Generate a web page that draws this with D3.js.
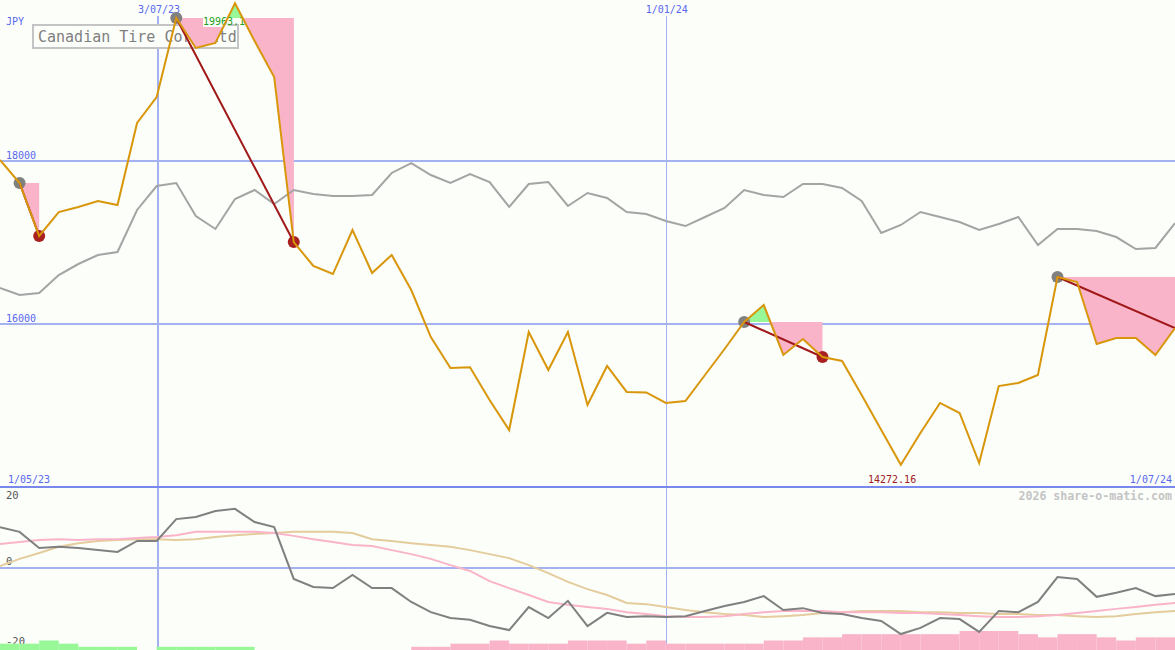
<!DOCTYPE html>
<html><head><meta charset="utf-8">
<script src="https://cdn.jsdelivr.net/npm/d3@7"></script>
<style>html,body{margin:0;padding:0;background:#fcfefa;}svg{display:block;}</style>
</head><body>
<script>
// ---- data ----
const title = "Canadian Tire Corp Ltd";
const currency = "JPY";
const price = [18012,17730,17080,17374,17436,17509,17460,18466,18785,19755,
  19387,19448,19935,19472,19031,17006,16712,16613,17153,16626,
  16847,16417,15840,15460,15470,15067,14699,15902,15436,15902,
  15006,15485,15166,15160,15031,15055,15374,15693,16025,16233,
  15620,15816,15595,15546,15129,14699,14272.16,14663,15031,14908,
  14294,15239,15276,15374,16577,16515,15755,15828,15828,15620,15951];
const avgLine = [16442,16356,16380,16601,16736,16847,16883,17399,17693,17730,
  17325,17166,17534,17644,17472,17644,17595,17571,17571,17583,
  17853,17975,17828,17730,17840,17742,17436,17718,17742,17448,
  17607,17546,17374,17350,17264,17202,17313,17423,17644,17583,
  17558,17718,17718,17669,17509,17117,17215,17374,17313,17252,
  17153,17227,17313,16969,17166,17166,17141,17067,16920,16933,17239];
const momentum = [11.2,9.9,5.5,5.8,5.5,4.9,4.4,7.4,7.4,13.4,
  14.0,15.6,16.2,12.6,11.2,-3.0,-5.2,-5.5,-1.9,-5.5,
  -5.5,-9.3,-12.1,-13.7,-14.2,-15.9,-17.0,-10.7,-13.7,-9.0,
  -15.9,-12.3,-13.4,-13.2,-13.4,-13.2,-11.8,-10.4,-9.3,-7.7,
  -11.5,-11.0,-12.3,-12.6,-13.7,-14.5,-18.1,-16.4,-13.7,-14.0,
  -17.5,-11.8,-12.1,-9.3,-2.5,-3.0,-7.9,-6.8,-5.5,-7.7,-7.1];
const fastAvg = [6.6,7.1,7.7,7.9,7.7,7.9,7.9,8.2,8.5,9.0,
  9.9,9.9,9.9,9.9,9.6,8.8,7.9,7.1,6.3,6.0,
  4.9,3.8,2.5,0.8,-0.8,-3.6,-5.5,-7.4,-9.3,-10.1,
  -10.7,-11.2,-12.1,-12.6,-13.2,-13.4,-13.4,-13.2,-12.6,-12.1,
  -11.8,-11.8,-11.8,-12.1,-12.1,-12.1,-12.3,-12.3,-12.6,-12.9,
  -13.2,-13.4,-13.4,-13.2,-12.9,-12.3,-11.8,-11.2,-10.7,-10.1,-9.6];
const slowAvg = [0.5,2.5,4.1,5.8,6.8,7.4,7.7,7.9,7.9,7.7,
  7.9,8.5,9.0,9.3,9.6,9.9,9.9,9.9,9.6,7.9,
  7.4,6.8,6.3,5.8,4.9,3.8,2.7,0.8,-1.4,-3.8,
  -5.8,-7.4,-9.6,-9.9,-10.7,-11.5,-12.1,-12.6,-12.9,-13.4,
  -13.2,-12.9,-12.3,-12.1,-11.8,-11.8,-11.8,-12.1,-12.1,-12.3,
  -12.3,-12.6,-12.6,-12.9,-12.9,-13.2,-13.4,-13.2,-12.6,-12.1,-11.8];
const strength = [2,2,3,2,1,1,1,0,1,1,
  1,1,1,0,0,0,0,0,0,0,
  0,-1,-1,-2,-2,-3,-2,-2,-2,-3,
  -3,-3,-2,-3,-2,-2,-2,-2,-2,-3,
  -3,-4,-4,-5,-5,-5,-5,-5,-5,-6,
  -6,-6,-5,-4,-5,-5,-4,-3,-4,-4,0];
const signalStart = [1, 9, 38, 54];
const signalEnd   = [2, 15, 42, 60];
const signalOpen  = [false, false, false, true];
const priceTicks = [18000, 16000];
const lowerTicks = [20, 0, -20];
const dateTickIdx = [8.07, 34];
const dateTickLabels = ["3/07/23", "1/01/24"];
const startLabel = "1/05/23", endLabel = "1/07/24";
const maxLabel = "19963.1", minLabel = "14272.16";
const credit = "2026 share-o-matic.com";

// ---- drawing ----
const W = 1175, H = 650;
const svg = d3.select("body").append("svg").attr("width", W).attr("height", H)
  .style("font-family", "'DejaVu Sans Mono', monospace");
svg.append("rect").attr("width", W).attr("height", H).attr("fill", "#fcfefa");

const x = d3.scaleLinear().domain([0, price.length - 1]).range([0, W]);
const y = d3.scaleLinear().domain([14000, 18000]).range([487, 161]);
const y2 = d3.scaleLinear().domain([-20, 20]).range([641, 495]);
const hb = d3.scaleLinear().domain([0, 6]).range([0, 19]);

const grid = "#a4b2f2", labBlue = "#5868ee", pink = "#f9b4c9", green = "#98f898";

// gridlines
svg.selectAll(".hg").data(priceTicks).join("line")
  .attr("x1", 0).attr("x2", W).attr("y1", d => y(d)).attr("y2", d => y(d))
  .attr("stroke", grid).attr("stroke-width", 2);
svg.selectAll(".vg").data(dateTickIdx).join("line")
  .attr("x1", (d, i) => Math.round(x(d)) + (i === 0 ? 0 : 0.5))
  .attr("x2", (d, i) => Math.round(x(d)) + (i === 0 ? 0 : 0.5))
  .attr("y1", 16).attr("y2", H)
  .attr("stroke", grid).attr("stroke-width", (d, i) => i === 0 ? 2 : 1);
svg.append("line").attr("x1", 0).attr("x2", W).attr("y1", y2(0)).attr("y2", y2(0))
  .attr("stroke", grid).attr("stroke-width", 2);
svg.append("line").attr("x1", 0).attr("x2", W).attr("y1", y(14000)).attr("y2", y(14000))
  .attr("stroke", "#7888ec").attr("stroke-width", 2);

// labels
const txt = (t, tx, ty, col, size, anchor) => svg.append("text").text(t)
  .attr("x", tx).attr("y", ty).attr("fill", col).attr("font-size", size)
  .attr("text-anchor", anchor || "start");
txt(currency, 6, 25, labBlue, 10);
priceTicks.forEach(v => txt(String(v), 6, y(v) - 2, labBlue, 10));
dateTickIdx.forEach((d, i) => txt(dateTickLabels[i], x(d) + 1, 13, labBlue, 10, "middle"));
txt(startLabel, 8, 483, labBlue, 10);
txt(endLabel, 1172, 483, labBlue, 10, "end");
txt(minLabel, 868, 483, "#a02020", 10);
lowerTicks.forEach(v => txt(String(v), 6, y2(v) + (v === 0 ? -3 : 4), "#555", 10.5));
txt(credit, 1172, 500, "#c4c4c4", 11.6, "end").attr("font-weight", "bold");

// title box
svg.append("rect").attr("x", 33).attr("y", 25).attr("width", 205).attr("height", 23)
  .attr("fill", "#fcfefa").attr("stroke", "#c4c4c4").attr("stroke-width", 2);
txt(title, 38, 42, "#808080", 15);

// bars
svg.selectAll(".bar").data(strength.slice(0, -1)).join("rect")
  .attr("x", (d, i) => x(i)).attr("width", (d, i) => x(i + 1) - x(i))
  .attr("y", d => H - hb(Math.abs(d))).attr("height", d => hb(Math.abs(d)))
  .attr("fill", d => d >= 0 ? green : pink);

// signal fills
const defs = svg.append("defs");
const areas = [];
signalStart.forEach((s, k) => {
  const e = signalEnd[k], base = y(price[s]);
  const idx = d3.range(s, e + 1);
  const area = d3.area().x(i => x(i)).y0(base).y1(i => y(price[i]));
  areas.push({ d: area(idx), base });
  defs.append("clipPath").attr("id", "cb" + k).append("rect")
    .attr("x", 0).attr("y", base).attr("width", W).attr("height", H);
  defs.append("clipPath").attr("id", "ca" + k).append("rect")
    .attr("x", 0).attr("y", -10).attr("width", W).attr("height", base + 10);
  svg.append("path").attr("d", areas[k].d).attr("fill", pink).attr("clip-path", `url(#cb${k})`);
  svg.append("path").attr("d", areas[k].d).attr("fill", green).attr("clip-path", `url(#ca${k})`);
});

// max label (drawn between fill parts)
const iMax = d3.maxIndex(price);
const b1 = price[signalStart[1]];
const tc = (b1 - price[iMax - 1]) / (price[iMax] - price[iMax - 1]);
const xCross = x(iMax - 1 + tc);
svg.append("rect").attr("x", 203).attr("y", 16).attr("width", Math.max(0, xCross - 203)).attr("height", 11)
  .attr("fill", "#fcfefa");
txt(maxLabel, 203, 25, "#22a022", 10);
defs.append("clipPath").attr("id", "cmx").append("rect")
  .attr("x", x(iMax)).attr("y", areas[1].base).attr("width", W).attr("height", H);
svg.append("path").attr("d", areas[1].d).attr("fill", pink).attr("clip-path", "url(#cmx)");

// markers
signalStart.forEach((s, k) => {
  svg.append("circle").attr("cx", x(s)).attr("cy", y(price[s])).attr("r", 6).attr("fill", "#808080");
  if (!signalOpen[k]) svg.append("circle").attr("cx", x(signalEnd[k])).attr("cy", y(price[signalEnd[k]]))
    .attr("r", 6).attr("fill", "#a82020");
});

// lines
const line = (arr, ys) => d3.line().x((d, i) => x(i)).y(d => ys(d))(arr);
svg.append("path").attr("d", line(avgLine, y)).attr("fill", "none").attr("stroke", "#a4a4a4").attr("stroke-width", 2);
svg.append("path").attr("d", line(slowAvg, y2)).attr("fill", "none").attr("stroke", "#e4cc9c").attr("stroke-width", 2);
svg.append("path").attr("d", line(fastAvg, y2)).attr("fill", "none").attr("stroke", pink).attr("stroke-width", 2);
svg.append("path").attr("d", line(momentum, y2)).attr("fill", "none").attr("stroke", "#808080").attr("stroke-width", 2);

// trend lines
signalStart.forEach((s, k) => {
  const e = signalEnd[k];
  svg.append("line").attr("x1", x(s)).attr("y1", y(price[s])).attr("x2", x(e)).attr("y2", y(price[e]))
    .attr("stroke", "#a01818").attr("stroke-width", 2);
});
svg.append("path").attr("d", line(price, y)).attr("fill", "none").attr("stroke", "#d8960a").attr("stroke-width", 2);
</script>
</body></html>
